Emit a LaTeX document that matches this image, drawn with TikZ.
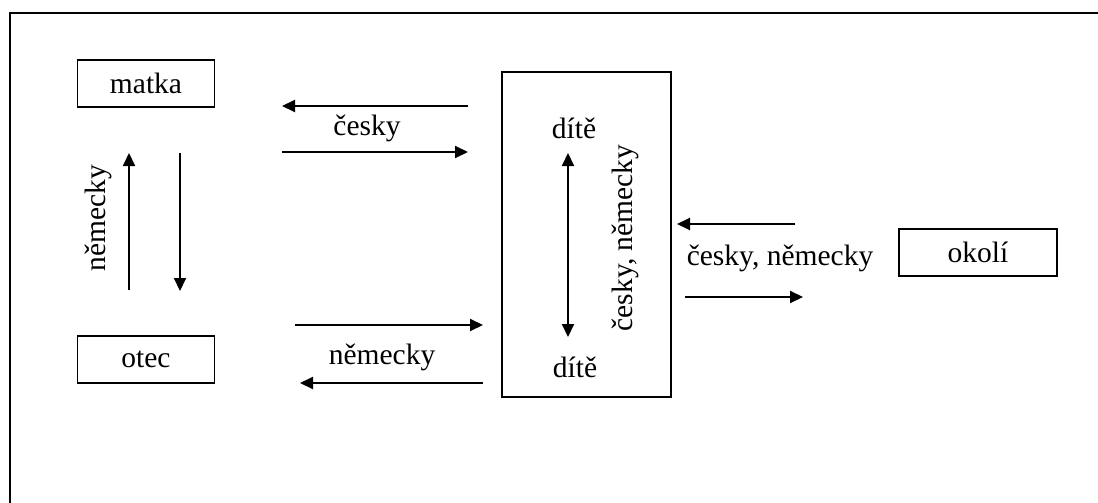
\documentclass[tikz,border=0pt]{standalone}
\usepackage{fontspec}
\setmainfont{Liberation Serif}
\usetikzlibrary{arrows.meta}
\begin{document}
\begin{tikzpicture}[x=1pt,y=-1pt,
  every node/.style={font=\fontsize{29.5}{34}\selectfont, inner sep=0pt},
  person/.style={draw, line width=1.8pt, minimum width=137pt, minimum height=47pt},
  flow/.style={line width=2pt, -{Triangle[length=13pt,width=12pt]}},
  both/.style={line width=2pt, {Triangle[length=13pt,width=12pt]}-{Triangle[length=13pt,width=12pt]}},
  frame/.style={line width=2.4pt}]
  \useasboundingbox (0,0) rectangle (1098,503);
  % outer frame, running past the right and bottom edges
  \draw[frame] (10,520) -- (10,13) -- (1110,13);

  % boxes
  \node[person] (matka) at (146,83.5) {matka};
  \node[person] (otec) at (146,359.5) {otec};
  \node[draw, line width=1.8pt, minimum width=169pt, minimum height=325pt] (dite) at (586.5,234.5) {};
  \node[person, minimum width=158pt] (okoli) at (978,252.5) {okolí};

  % texts inside the child box
  \node (ditetop) at (574,128) {dítě};
  \node (ditebot) at (575,367) {dítě};
  \node[rotate=90] (ditelang) at (625,238) {česky, německy};
  \coordinate (dA) at (568,153);
  \coordinate (dB) at (568,337);
  \draw[both] (dA) -- (dB);

  % mother <-> father
  \node[rotate=90] (mfl) at (98,218) {německy};
  \coordinate (mf1) at (129,290);
  \coordinate (mf2) at (129,153);
  \coordinate (mf3) at (180,153);
  \coordinate (mf4) at (180,291);
  \draw[flow] (mf1) -- (mf2);
  \draw[flow] (mf3) -- (mf4);

  % mother <-> child
  \node (mcl) at (367,128) {česky};
  \coordinate (mc1) at (468,106);
  \coordinate (mc2) at (282,106);
  \coordinate (mc3) at (282,152);
  \coordinate (mc4) at (468,152);
  \draw[flow] (mc1) -- (mc2);
  \draw[flow] (mc3) -- (mc4);

  % father <-> child
  \node (fcl) at (382,357) {německy};
  \coordinate (fc1) at (295,325);
  \coordinate (fc2) at (483,325);
  \coordinate (fc3) at (483,383);
  \coordinate (fc4) at (300,383);
  \draw[flow] (fc1) -- (fc2);
  \draw[flow] (fc3) -- (fc4);

  % surroundings <-> child
  \node (ocl) at (780,258) {česky, německy};
  \coordinate (oc1) at (795,224);
  \coordinate (oc2) at (677,224);
  \coordinate (oc3) at (685,297);
  \coordinate (oc4) at (803,297);
  \draw[flow] (oc1) -- (oc2);
  \draw[flow] (oc3) -- (oc4);
\end{tikzpicture}
\end{document}
